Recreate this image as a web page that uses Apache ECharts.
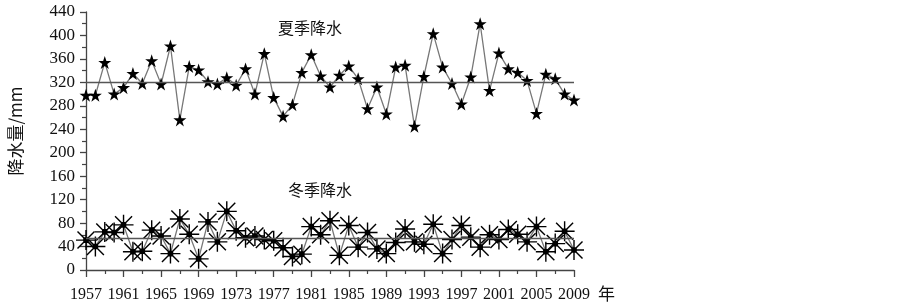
<!DOCTYPE html>
<html>
<head>
<meta charset="utf-8">
<script src="https://cdn.jsdelivr.net/npm/echarts@6/dist/echarts.min.js"></script>
<style>
html,body{margin:0;padding:0;background:#fff;}
#chart{width:902px;height:304px;}
</style>
</head>
<body>
<div id="chart"></div>
<script>
const years = [1957,1958,1959,1960,1961,1962,1963,1964,1965,1966,1967,1968,1969,1970,1971,1972,1973,1974,1975,1976,1977,1978,1979,1980,1981,1982,1983,1984,1985,1986,1987,1988,1989,1990,1991,1992,1993,1994,1995,1996,1997,1998,1999,2000,2001,2002,2003,2004,2005,2006,2007,2008,2009];
const summer = [298,298,354,300,311,335,318,357,317,382,256,347,341,321,317,328,315,343,300,369,294,262,282,337,367,331,312,332,348,326,275,312,266,346,349,245,330,403,346,318,283,329,420,306,370,343,337,323,267,334,326,300,290];
const winter = [51,40,65,64,77,31,32,68,58,28,87,61,19,82,48,100,67,55,58,52,50,38,23,27,74,60,84,25,76,39,64,36,28,47,70,48,44,78,28,52,76,56,39,60,52,69,61,48,74,31,45,66,34];
const summerMean = [321];
const winterMean = [55];
const seriesNames = ['夏季降水','冬季降水'];
const yAxisName = '降水量/mm';
const xAxisUnit = '年';

const starPath = 'path://M10 0 L12.35 6.9 L19.5 6.9 L13.6 11.1 L15.9 18 L10 13.8 L4.1 18 L6.4 11.1 L0.5 6.9 L7.65 6.9 Z';
const asteriskPath = 'path://M0 9.3 H20 V10.7 H0 Z M9.3 0 H10.7 V20 H9.3 Z M1.0 2.0 L2.0 1.0 L19.0 18.0 L18.0 19.0 Z M18.0 1.0 L19.0 2.0 L2.0 19.0 L1.0 18.0 Z M7.2 7.2 H12.8 V12.8 H7.2 Z';

const pair = (arr) => years.map((y, i) => [y, arr[i]]);
const serif = '"Liberation Serif","DejaVu Serif",serif';
const cjk = '"Noto Sans CJK SC",sans-serif';

const chart = echarts.init(document.getElementById('chart'), null, {renderer: 'canvas'});
chart.setOption({
  animation: false,
  backgroundColor: '#fff',
  grid: {left: 86, right: 328, top: 12, bottom: 34, containLabel: false},
  xAxis: {
    type: 'value', min: 1957, max: 2009, interval: 4,
    axisLine: {lineStyle: {color: '#444', width: 1.3}},
    axisTick: {length: 7, lineStyle: {color: '#444', width: 1.3}},
    minorTick: {show: true, splitNumber: 2, length: 4, lineStyle: {color: '#444', width: 1.2}},
    splitLine: {show: false},
    axisLabel: {color: '#111', fontFamily: serif, fontSize: 16, margin: 17, formatter: v => String(v)}
  },
  yAxis: {
    type: 'value', min: 0, max: 440, interval: 40,
    axisLine: {show: true, lineStyle: {color: '#444', width: 1.3}},
    axisTick: {show: true, length: 6, lineStyle: {color: '#444', width: 1.3}},
    minorTick: {show: true, splitNumber: 2, length: 4, lineStyle: {color: '#444', width: 1.2}},
    splitLine: {show: false},
    axisLabel: {color: '#111', fontFamily: serif, fontSize: 17, margin: 11}
  },
  graphic: [
    {type: 'text', x: 16, y: 131, rotation: Math.PI / 2,
     style: {text: yAxisName, font: '17px ' + cjk, fill: '#111', textAlign: 'center', textVerticalAlign: 'middle'}},
    {type: 'text', x: 598, y: 294,
     style: {text: xAxisUnit, font: '17px ' + cjk, fill: '#111', textAlign: 'left', textVerticalAlign: 'middle'}},
    {type: 'text', x: 278, y: 28,
     style: {text: seriesNames[0], font: '16px ' + cjk, fill: '#111', textAlign: 'left', textVerticalAlign: 'middle'}},
    {type: 'text', x: 288, y: 190,
     style: {text: seriesNames[1], font: '16px ' + cjk, fill: '#111', textAlign: 'left', textVerticalAlign: 'middle'}}
  ],
  series: [
    {
      name: seriesNames[0], type: 'line', data: pair(summer),
      symbol: starPath, symbolSize: 13, showAllSymbol: true,
      lineStyle: {color: '#777', width: 1.3},
      itemStyle: {color: '#000'},
      markLine: {silent: true, symbol: 'none', label: {show: false},
        lineStyle: {color: '#555', width: 1.4, type: 'solid'},
        data: [[{coord: [1957, summerMean[0]]}, {coord: [2009, summerMean[0]]}]]}
    },
    {
      name: seriesNames[1], type: 'line', data: pair(winter),
      symbol: asteriskPath, symbolSize: 20, showAllSymbol: true,
      lineStyle: {color: '#777', width: 1.3},
      itemStyle: {color: '#000'},
      markLine: {silent: true, symbol: 'none', label: {show: false},
        lineStyle: {color: '#555', width: 1.4, type: 'solid'},
        data: [[{coord: [1957, winterMean[0]]}, {coord: [2009, winterMean[0]]}]]}
    }
  ]
});
</script>
</body>
</html>
